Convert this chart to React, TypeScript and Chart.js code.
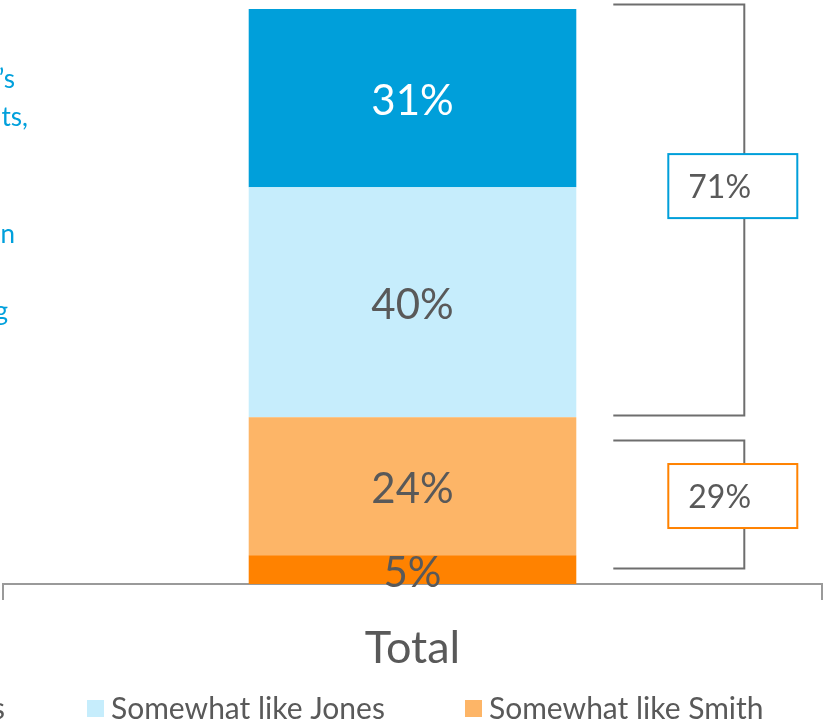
import React, { useEffect, useRef } from "react";
import { Chart, registerables } from "chart.js";

Chart.register(...registerables);

// ---- data ----
const categories = ["Total"];
const seriesLabels = [
  "Very much like Smith",
  "Somewhat like Smith",
  "Somewhat like Jones",
  "Very much like Jones",
];
const seriesValues = [5, 24, 40, 31];
const seriesColors = ["#FF8200", "#FDB567", "#C6EDFC", "#009FDA"];
const labelColors = ["#595959", "#595959", "#595959", "#FFFFFF"];
const groupLabels = ["71%", "29%"];
const groupColors = ["#009FDA", "#FF8200"];
const sideNoteFragments = ["\u2019s", "ts,", "n", "g"];

// ---- layout constants ----
const FONT = "Lato, 'Open Sans', sans-serif";
const TEXT_GRAY = "#595959";
const bracketRanges = [
  [100.87, 29.35],
  [25.04, 2.78],
];
const boxCenters = [69.2, 15.3];
const sideNoteRightX = [15, 28, 15, 8];
const sideNoteY = [80, 118, 235, 312];

const overlayPlugin = {
  id: "overlay",
  afterDraw(chart: any) {
    const ctx = chart.ctx;
    const ys = chart.scales.y;
    ctx.save();

    // data labels
    chart.data.datasets.forEach((ds: any, i: number) => {
      const meta = chart.getDatasetMeta(i);
      meta.data.forEach((el: any, j: number) => {
        const v = ds.data[j];
        const cy = (el.y + el.base) / 2 + (v < 8 ? 4 : 3);
        ctx.font = `42px ${FONT}`;
        ctx.fillStyle = labelColors[i];
        ctx.textAlign = "center";
        ctx.textBaseline = "middle";
        ctx.fillText(`${v}%`, el.x, cy);
      });
    });

    // brackets
    const barEl = chart.getDatasetMeta(0).data[0];
    const barRight = barEl.x + barEl.width / 2;
    const hx0 = barRight + 37;
    const vx = barRight + 168;
    bracketRanges.forEach((r, k) => {
      const y0 = Math.round(ys.getPixelForValue(r[0])) + 0.5;
      const y1 = Math.round(ys.getPixelForValue(r[1])) + 0.5;
      ctx.strokeStyle = "#6E6E6E";
      ctx.lineWidth = 2;
      ctx.beginPath();
      ctx.moveTo(hx0, y0);
      ctx.lineTo(vx, y0);
      ctx.lineTo(vx, y1);
      ctx.lineTo(hx0, y1);
      ctx.stroke();

      const bc = ys.getPixelForValue(boxCenters[k]);
      const bx = barRight + 92;
      const bw = 129;
      const bh = 64;
      ctx.fillStyle = "#FFFFFF";
      ctx.fillRect(bx, bc - bh / 2, bw, bh);
      ctx.strokeStyle = groupColors[k];
      ctx.lineWidth = 2;
      ctx.strokeRect(bx, bc - bh / 2, bw, bh);
      ctx.font = `32px ${FONT}`;
      ctx.fillStyle = TEXT_GRAY;
      ctx.textAlign = "left";
      ctx.textBaseline = "middle";
      ctx.fillText(groupLabels[k], bx + 20, bc + 2);
    });

    // custom legend (reverse order), partially outside the view
    const legendY = 709;
    const spacing = 378;
    ctx.font = `30px ${FONT}`;
    ctx.textBaseline = "middle";
    for (let n = 0; n < seriesLabels.length; n++) {
      const i = seriesLabels.length - 1 - n;
      const sx = 87 + (n - 1) * spacing;
      ctx.fillStyle = seriesColors[i];
      ctx.fillRect(sx, legendY - 9, 17, 17);
      ctx.fillStyle = TEXT_GRAY;
      if (n === 0) {
        ctx.textAlign = "right";
        ctx.fillText(seriesLabels[i], 5, legendY);
      } else {
        ctx.textAlign = "left";
        ctx.fillText(seriesLabels[i], sx + 24, legendY);
      }
    }

    // side note fragments (text cut by the left edge)
    ctx.font = `26px ${FONT}`;
    ctx.fillStyle = "#00A0DC";
    ctx.textAlign = "right";
    ctx.textBaseline = "middle";
    sideNoteFragments.forEach((t, i) => {
      ctx.fillText(t, sideNoteRightX[i], sideNoteY[i]);
    });

    ctx.restore();
  },
};

export default function App() {
  const ref = useRef<HTMLCanvasElement | null>(null);
  useEffect(() => {
    document.body.style.margin = "0";
    if (!ref.current) return;
    const chart = new Chart(ref.current, {
      type: "bar",
      data: {
        labels: categories,
        datasets: seriesLabels.map((l, i) => ({
          label: l,
          data: [seriesValues[i]],
          backgroundColor: seriesColors[i],
          borderWidth: 0,
          categoryPercentage: 1,
          barPercentage: 0.4,
        })),
      },
      options: {
        responsive: false,
        animation: false,
        layout: { padding: { top: 9, left: 3, right: 1, bottom: 0 } },
        plugins: {
          legend: { display: false },
          tooltip: { enabled: false },
        },
        scales: {
          x: {
            stacked: true,
            offset: true,
            grid: {
              display: true,
              offset: true,
              drawOnChartArea: false,
              drawTicks: true,
              tickLength: 16,
              color: "#9A9A9A",
              lineWidth: 2,
            },
            border: { display: true, color: "#9A9A9A", width: 2 },
            ticks: {
              color: TEXT_GRAY,
              font: { family: FONT, size: 45 },
              padding: 21,
            },
            afterFit: (scale: any) => {
              scale.height = 141;
            },
          },
          y: {
            stacked: true,
            display: false,
            min: 0,
            max: 100,
          },
        },
      },
      plugins: [overlayPlugin],
    });
    return () => chart.destroy();
  }, []);
  return (
    <div style={{ position: "absolute", left: 0, top: 0, width: 823, height: 725 }}>
      <canvas ref={ref} width={823} height={725} style={{ display: "block" }} />
    </div>
  );
}
